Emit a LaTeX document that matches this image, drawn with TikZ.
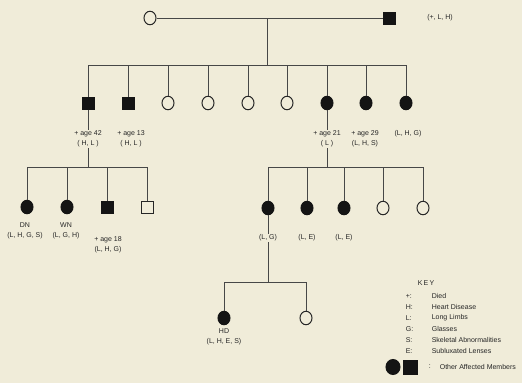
\documentclass[tikz,border=0pt]{standalone}
\usepackage{fontspec}
\setmainfont{Liberation Sans}
\usetikzlibrary{shapes.geometric}
\definecolor{paper}{HTML}{F0ECD9}
\definecolor{ink}{HTML}{262626}
\tikzset{
  female/.style={ellipse,draw=ink,line width=1pt,minimum width=12pt,minimum height=13.5pt,inner sep=0pt},
  male/.style={rectangle,draw=ink,line width=1pt,minimum size=12pt,inner sep=0pt},
  affected/.style={fill=black!92,draw=black!92},
  lbl/.style={font=\fontsize{7}{10.5}\selectfont,text=ink,fill=paper,inner sep=0.6pt,align=center},
  kin/.style={draw=ink!85,line width=0.9pt}
}
\begin{document}
\begin{tikzpicture}[x=1pt,y=-1pt]
    \fill[paper] (0,0) rectangle (522,383);
    \useasboundingbox (0,0) rectangle (522,383);

    %first generation
    \node[female] (f0) at (150,18) {};
    \node[male,affected] (m0) at (389,18) {};
    %second generation
    \node[male,affected] (c1) at (88,103) {};
    \node[male,affected] (c2) at (128,103) {};
    \node[female] (c3) at (168,103) {};
    \node[female] (c4) at (208,103) {};
    \node[female] (c5) at (248,103) {};
    \node[female] (c6) at (287,103) {};
    \node[female,affected] (c7) at (327,103) {};
    \node[female,affected] (c8) at (366,103) {};
    \node[female,affected] (c9) at (406,103) {};
    %third generation
    \node[female,affected] (a1) at (27,207) {};
    \node[female,affected] (a2) at (67,207) {};
    \node[male,affected] (a3) at (107,207) {};
    \node[male] (a4) at (147,207) {};
    \node[female,affected] (b1) at (268,208) {};
    \node[female,affected] (b2) at (307,208) {};
    \node[female,affected] (b3) at (344,208) {};
    \node[female] (b4) at (383,208) {};
    \node[female] (b5) at (423,208) {};
    %fourth generation
    \node[female,affected] (d1) at (224,318) {};
    \node[female] (d2) at (306,318) {};

    %lines
    \coordinate (d0) at (267,18);
    \coordinate (s0) at (267,65);
    \coordinate (s1) at (88,167);
    \coordinate (s2) at (327,167);
    \coordinate (s3) at (268,282);
    \draw[kin] (f0) -- (m0);
    \draw[kin] (d0) -- (s0);
    \draw[kin] (c1 |- s0) -- (c9 |- s0);
    \foreach \c in {c1,c2,c3,c4,c5,c6,c7,c8,c9}
        \draw[kin] (\c |- s0) -- (\c);
    \draw[kin] (c1) -- (s1);
    \draw[kin] (a1 |- s1) -- (a4 |- s1);
    \foreach \c in {a1,a2,a3,a4}
        \draw[kin] (\c |- s1) -- (\c);
    \draw[kin] (c7) -- (s2);
    \draw[kin] (b1 |- s2) -- (b5 |- s2);
    \foreach \c in {b1,b2,b3,b4,b5}
        \draw[kin] (\c |- s2) -- (\c);
    \draw[kin] (b1) -- (s3);
    \draw[kin] (d1 |- s3) -- (d2 |- s3);
    \draw[kin] (d1 |- s3) -- (d1);
    \draw[kin] (d2 |- s3) -- (d2);

    %labels
    \node[lbl] (tm0) at (440,18) {(+, L, H)};
    \node[lbl] (tc1) at (88,139) {+ age 42\\( H, L )};
    \node[lbl] (tc2) at (131,139) {+ age 13\\( H, L )};
    \node[lbl] (tc7) at (327,139) {+ age 21\\( L )};
    \node[lbl] (tc8) at (365,139) {+ age 29\\(L, H, S)};
    \node[lbl] (tc9) at (408,134) {(L, H, G)};
    \node[lbl] (ta1) at (25,231) {DN\\(L, H, G, S)};
    \node[lbl] (ta2) at (66,231) {WN\\(L, G, H)};
    \node[lbl] (ta3) at (108,245) {+ age 18\\(L, H, G)};
    \node[lbl] (tb1) at (268,238) {(L, G)};
    \node[lbl] (tb2) at (307,238) {(L, E)};
    \node[lbl] (tb3) at (344,238) {(L, E)};
    \node[lbl] (td1) at (224,337) {HD\\(L, H, E, S)};

    %key
    \node[lbl] (key) at (426,283) {K\,E\,Y};
    \foreach \y/\k/\t in {296/+:/Died,307/H:/Heart Disease,318/L:/Long Limbs,329/G:/Glasses,340/S:/Skeletal Abnormalities,351/E:/Subluxated Lenses}{
        \node[lbl,anchor=west] at (405,\y) {\k};
        \node[lbl,anchor=west] at (431,\y) {\t};
    }
    \node[female,affected,minimum width=14pt,minimum height=15pt] (kf) at (393,367) {};
    \node[male,affected,minimum size=14pt] (km) at (410,367) {};
    \node[lbl,anchor=west] (kc) at (428,367) {:};
    \node[lbl,anchor=west] (kt) at (439,367) {Other Affected Members};
\end{tikzpicture}
\end{document}
